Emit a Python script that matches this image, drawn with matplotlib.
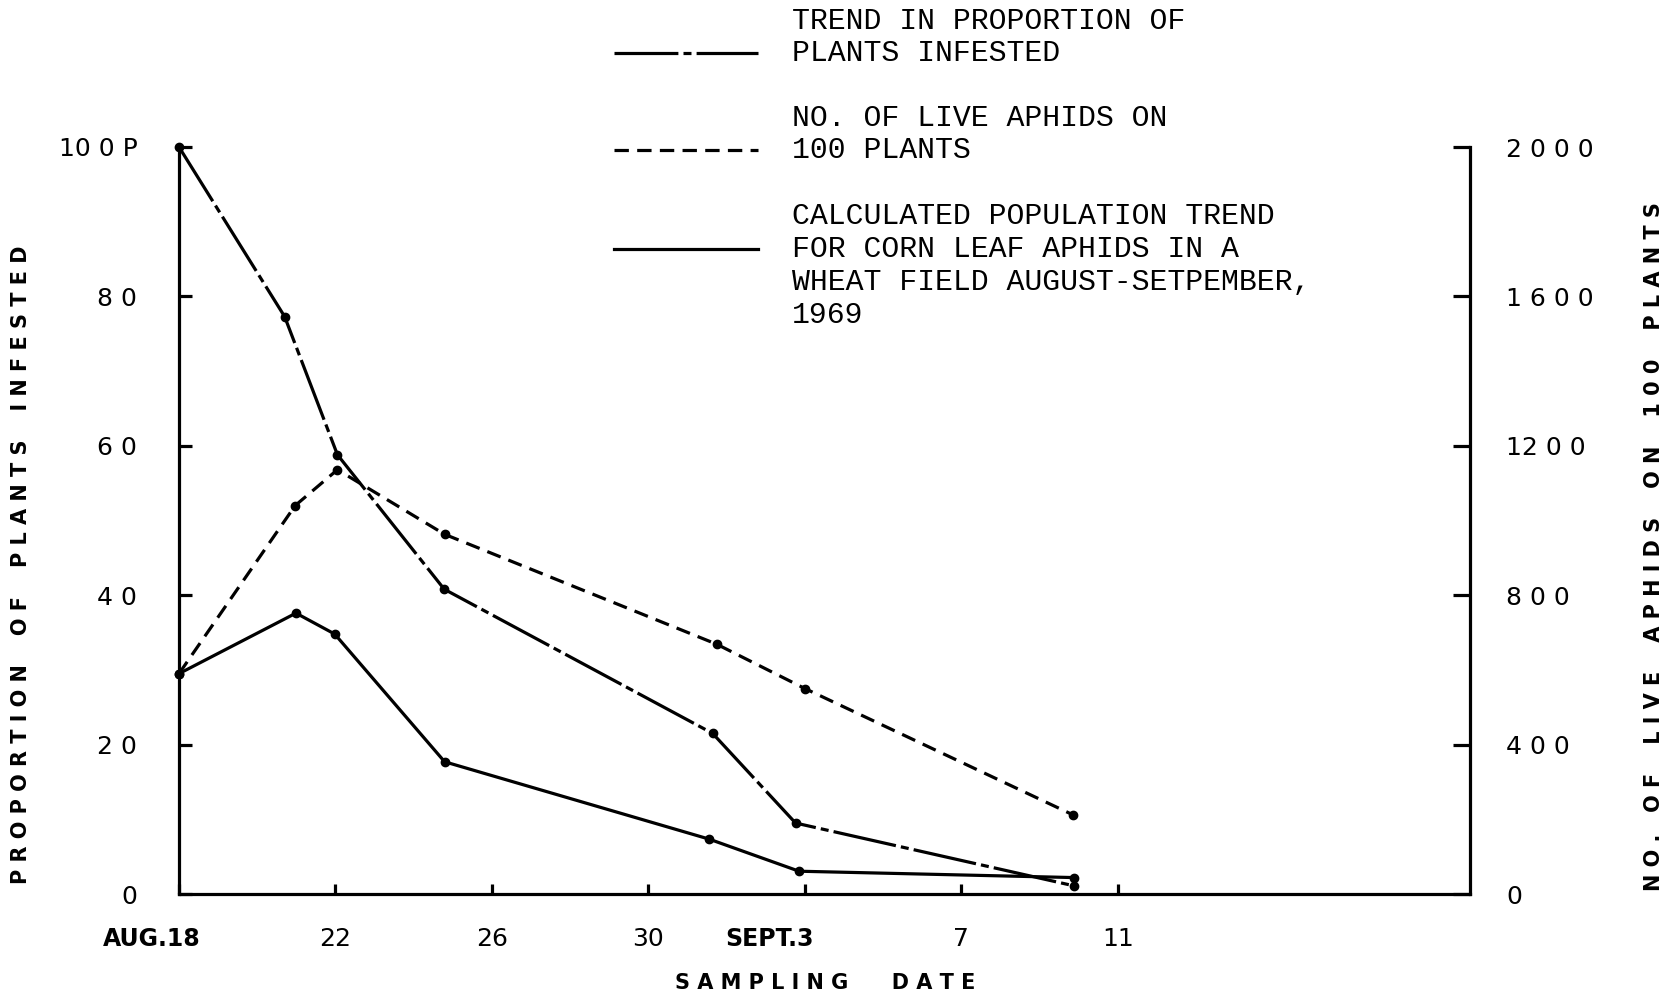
import matplotlib
matplotlib.use('Agg')
import matplotlib.pyplot as plt
from matplotlib.lines import Line2D
from matplotlib.transforms import ScaledTranslation

# days counted from Aug 18
prop_days = [0, 2.7, 4.05, 6.78, 13.64, 15.76, 22.87]
prop_infested = [100, 77.3, 58.8, 40.8, 21.5, 9.5, 1.1]

live_days = [0, 2.97, 4.05, 6.79, 13.74, 16.0, 22.85]
live_aphids = [590, 1040, 1136, 963, 669, 550, 212]

calc_days = [0, 2.99, 3.98, 6.79, 13.55, 15.85, 22.87]
calc_trend = [590, 752, 696, 354, 147, 61, 44]

tick_days = [0, 4, 8, 12, 16, 20, 24]
tick_labels = ['AUG.18', '22', '26', '30', 'SEPT.3', '7', '11']
left_ticks = [0, 20, 40, 60, 80, 100]
left_labels = ['0', '2 0', '4 0', '6 0', '8 0', '10 0 P']
right_ticks = [0, 400, 800, 1200, 1600, 2000]
right_labels = ['0', '4 0 0', '8 0 0', '12 0 0', '1 6 0 0', '2 0 0 0']

W, H = 1673, 998
fig = plt.figure(figsize=(W / 100, H / 100), dpi=100)
fig.patch.set_facecolor('white')

ax = fig.add_axes([179 / W, 1 - 894 / H, (1470 - 179) / W, (894 - 147) / H])
ax2 = ax.twinx()

lw = 2.3
dashdot = (20, 1.6, 2.5, 1.6)
dashed = (4.5, 2.6)
ax.plot(prop_days, prop_infested, color='black', lw=lw, dashes=dashdot,
        marker='o', ms=6, clip_on=False)
ax2.plot(live_days, live_aphids, color='black', lw=lw, dashes=dashed,
         marker='o', ms=6, clip_on=False)
ax2.plot(calc_days, calc_trend, color='black', lw=lw, ls='-',
         marker='o', ms=6, clip_on=False)

ax.set_xlim(0, 33)
ax.set_ylim(0, 100)
ax2.set_ylim(0, 2000)

for s in ['top', 'right']:
    ax.spines[s].set_visible(False)
for s in ['top', 'left', 'bottom']:
    ax2.spines[s].set_visible(False)
for s in ['left', 'bottom']:
    ax.spines[s].set_linewidth(lw)
ax2.spines['right'].set_linewidth(lw)

tick_font = dict(family='DejaVu Sans', size=18)

ax.set_yticks(left_ticks, left_labels, **tick_font)
ax.tick_params(axis='y', direction='in', length=9, width=lw, pad=30)
ax2.set_yticks(right_ticks, right_labels, **tick_font)
ax2.tick_params(axis='y', direction='in', length=12, width=lw, pad=26)

ax.set_xticks(tick_days, tick_labels, **tick_font)
ax.tick_params(axis='x', direction='in', length=7, width=lw, pad=24)
xl = ax.get_xticklabels()
for i in (0, 4):
    xl[i].set_fontweight('bold')
    xl[i].set_fontsize(17)
    xl[i].set_ha('right')
xl[0].set_transform(xl[0].get_transform() + ScaledTranslation(0.22, 0, fig.dpi_scale_trans))
xl[4].set_transform(xl[4].get_transform() + ScaledTranslation(0.09, 0, fig.dpi_scale_trans))

lab_font = dict(family='DejaVu Sans', size=15, weight='bold')
fig.text(825 / W, 1 - 983 / H, 'S A M P L I N G      D A T E', ha='center', va='center', **lab_font)
fig.text(21 / W, 1 - 565 / H, 'P R O P O R T I O N    O F    P L A N T S    I N F E S T E D',
         rotation=90, ha='center', va='center', **lab_font)
fig.text(1654 / W, 1 - 547 / H, 'N O .   O F    L I V E    A P H I D S    O N    1 0 0    P L A N T S',
         rotation=90, ha='center', va='center', **lab_font)

# legend drawn by hand
mono = dict(family='Liberation Mono', size=21.5)
legend_lines = [
    (53, dict(dashes=dashdot)),
    (150, dict(dashes=dashed)),
    (249, dict(ls='-')),
]
for y, style in legend_lines:
    fig.add_artist(Line2D([614 / W, 758 / W], [1 - y / H, 1 - y / H], color='black', lw=lw,
                          transform=fig.transFigure, **style))

legend_text = [
    (21, 'TREND IN PROPORTION OF'),
    (53, 'PLANTS INFESTED'),
    (118, 'NO. OF LIVE APHIDS ON'),
    (150, '100 PLANTS'),
    (216, 'CALCULATED POPULATION TREND'),
    (249, 'FOR CORN LEAF APHIDS IN A'),
    (282, 'WHEAT FIELD AUGUST-SETPEMBER,'),
    (315, '1969'),
]
for y, t in legend_text:
    fig.text(792 / W, 1 - y / H, t, ha='left', va='center', **mono)

fig.savefig('out.png', dpi=100, facecolor='white')
